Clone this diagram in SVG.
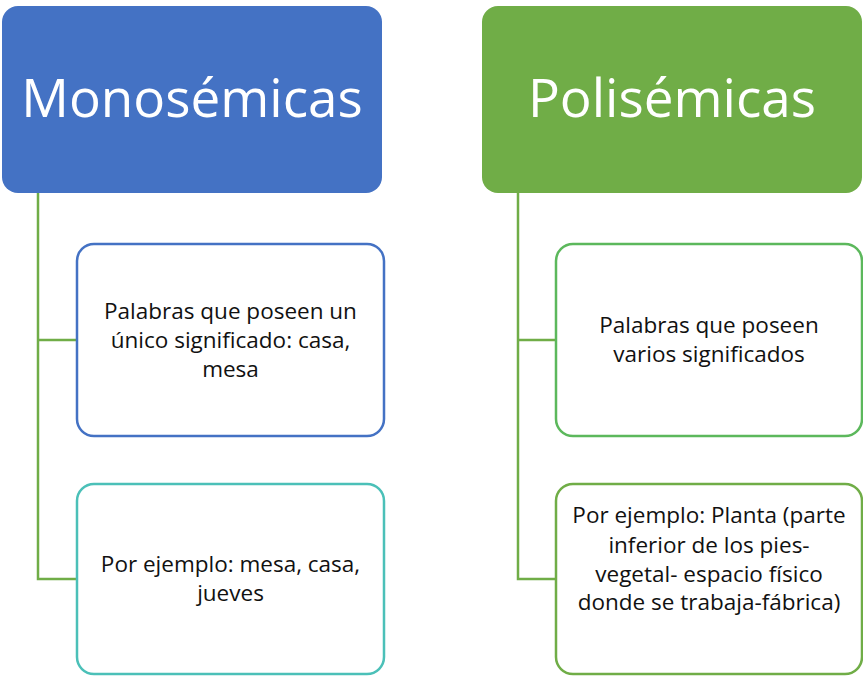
<svg xmlns="http://www.w3.org/2000/svg" width="863" height="676" viewBox="0 0 863 676">
<style>
.title{font-family:"Open Sans","Liberation Sans",sans-serif;font-size:53px;fill:#fff;text-anchor:middle}
.body{font-family:"Open Sans","Liberation Sans",sans-serif;font-size:22.5px;fill:#111;text-anchor:middle}
.conn{fill:none;stroke:#70AD47;stroke-width:2.5}
.card{fill:#fff;stroke-width:2.5}
</style>
<rect width="863" height="676" fill="#fff"/>
<g id="connectors">
<path class="conn" d="M38 193 V579 H77 M38 340 H77"/>
<path class="conn" d="M518 193 V579 H556 M518 340 H556"/>
</g>
<g id="monosemicas">
<rect x="2" y="6" width="380" height="187" rx="16" fill="#4472C4"/>
<text class="title" x="192" y="117">Monosémicas</text>
</g>
<g id="polisemicas">
<rect x="482" y="6" width="380" height="187" rx="16" fill="#70AD47"/>
<text class="title" x="672" y="117">Polisémicas</text>
</g>
<g id="mono-def">
<rect class="card" x="77" y="244" width="307" height="192" rx="17" stroke="#4472C4"/>
<text class="body" x="230.5" y="319">Palabras que poseen un</text>
<text class="body" x="230.5" y="348">único significado: casa,</text>
<text class="body" x="230.5" y="377">mesa</text>
</g>
<g id="mono-ej">
<rect class="card" x="77" y="484" width="307" height="190" rx="17" stroke="#4BC0B8"/>
<text class="body" x="230.5" y="572">Por ejemplo: mesa, casa,</text>
<text class="body" x="230.5" y="601">jueves</text>
</g>
<g id="poli-def">
<rect class="card" x="556" y="244" width="306" height="192" rx="17" stroke="#5CB85C"/>
<text class="body" x="709" y="333">Palabras que poseen</text>
<text class="body" x="709" y="362">varios significados</text>
</g>
<g id="poli-ej">
<rect class="card" x="556" y="484" width="306" height="190" rx="17" stroke="#70AD47"/>
<text class="body" x="709" y="523">Por ejemplo: Planta (parte</text>
<text class="body" x="709" y="553">inferior de los pies-</text>
<text class="body" x="709" y="582">vegetal- espacio físico</text>
<text class="body" x="709" y="610">donde se trabaja-fábrica)</text>
</g>
</svg>
